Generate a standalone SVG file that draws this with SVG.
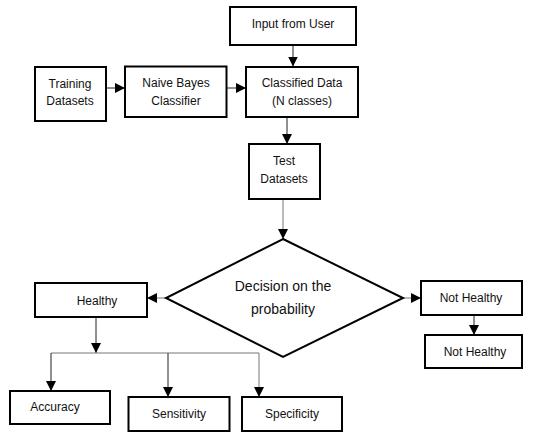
<svg xmlns="http://www.w3.org/2000/svg" width="558" height="436" viewBox="0 0 558 436">
<defs>
<marker id="ah" viewBox="0 0 10 10" refX="10" refY="5" markerWidth="10" markerHeight="11" markerUnits="userSpaceOnUse" orient="auto">
<path d="M0,0 L10,5 L0,10 Z" fill="#000"/>
</marker>
</defs>
<style>
.box{fill:#fff;stroke:#000;stroke-width:2}
.t{font-family:"Liberation Sans",Arial,sans-serif;font-size:12px;fill:#111;text-anchor:middle}
.tb{font-family:"Liberation Sans",Arial,sans-serif;font-size:14px;fill:#111;text-anchor:middle}
.c{fill:none;stroke:#222;stroke-width:1}
.g{fill:none;stroke:#777;stroke-width:1}
</style>
<rect width="558" height="436" fill="#fff"/>
<g id="connectors">
<line class="c" x1="293" y1="45" x2="293" y2="66.5" marker-end="url(#ah)"/>
<line class="c" x1="106" y1="88" x2="125" y2="88" marker-end="url(#ah)"/>
<line class="c" x1="227" y1="88" x2="246" y2="88" marker-end="url(#ah)"/>
<line class="c" x1="287" y1="117" x2="287" y2="144" marker-end="url(#ah)"/>
<line class="g" x1="283" y1="199" x2="283" y2="239" marker-end="url(#ah)"/>
<line class="g" x1="166" y1="298" x2="147" y2="298" marker-end="url(#ah)"/>
<line class="g" x1="403" y1="298" x2="421" y2="298" marker-end="url(#ah)"/>
<line class="c" x1="474" y1="315" x2="474" y2="335" marker-end="url(#ah)"/>
<line class="c" x1="96" y1="317" x2="96" y2="353" marker-end="url(#ah)"/>
<polyline class="g" points="51,353 259,353"/>
<line class="c" x1="51" y1="353" x2="51" y2="391" marker-end="url(#ah)"/>
<line class="c" x1="168" y1="353" x2="168" y2="397" marker-end="url(#ah)"/>
<line class="g" x1="259" y1="353" x2="259" y2="397" marker-end="url(#ah)"/>
</g>
<g id="input">
<rect class="box" x="230" y="7" width="126" height="38"/>
<text class="t" x="293" y="28">Input from User</text>
</g>
<g id="training">
<rect class="box" x="35" y="67" width="71" height="54"/>
<text class="t" x="70" y="88">Training</text>
<text class="t" x="70" y="105">Datasets</text>
</g>
<g id="naive">
<rect class="box" x="125" y="66.5" width="101.5" height="50.5"/>
<text class="t" x="176" y="87">Naive Bayes</text>
<text class="t" x="176" y="105">Classifier</text>
</g>
<g id="classified">
<rect class="box" x="246" y="67" width="112" height="50"/>
<text class="t" x="302" y="87">Classified Data</text>
<text class="t" x="302" y="105">(N classes)</text>
</g>
<g id="test">
<rect class="box" x="249" y="144" width="71" height="55"/>
<text class="t" x="284" y="165">Test</text>
<text class="t" x="284" y="183">Datasets</text>
</g>
<g id="decision">
<polygon class="box" points="283,239 403,298 283,357 166,298"/>
<text class="tb" x="283" y="291">Decision on the</text>
<text class="tb" x="283" y="314">probability</text>
</g>
<g id="healthy">
<rect class="box" x="35" y="283" width="112" height="34"/>
<text class="t" x="97" y="305">Healthy</text>
</g>
<g id="nothealthy1">
<rect class="box" x="421" y="281" width="101" height="34"/>
<text class="t" x="471" y="302">Not Healthy</text>
</g>
<g id="nothealthy2">
<rect class="box" x="425" y="335" width="97" height="33"/>
<text class="t" x="475" y="356">Not Healthy</text>
</g>
<g id="accuracy">
<rect class="box" x="10" y="391" width="100" height="33"/>
<text class="t" x="55" y="411">Accuracy</text>
</g>
<g id="sensitivity">
<rect class="box" x="128.5" y="397" width="101" height="34"/>
<text class="t" x="179" y="418">Sensitivity</text>
</g>
<g id="specificity">
<rect class="box" x="242" y="397" width="100" height="34"/>
<text class="t" x="292" y="418">Specificity</text>
</g>
</svg>
